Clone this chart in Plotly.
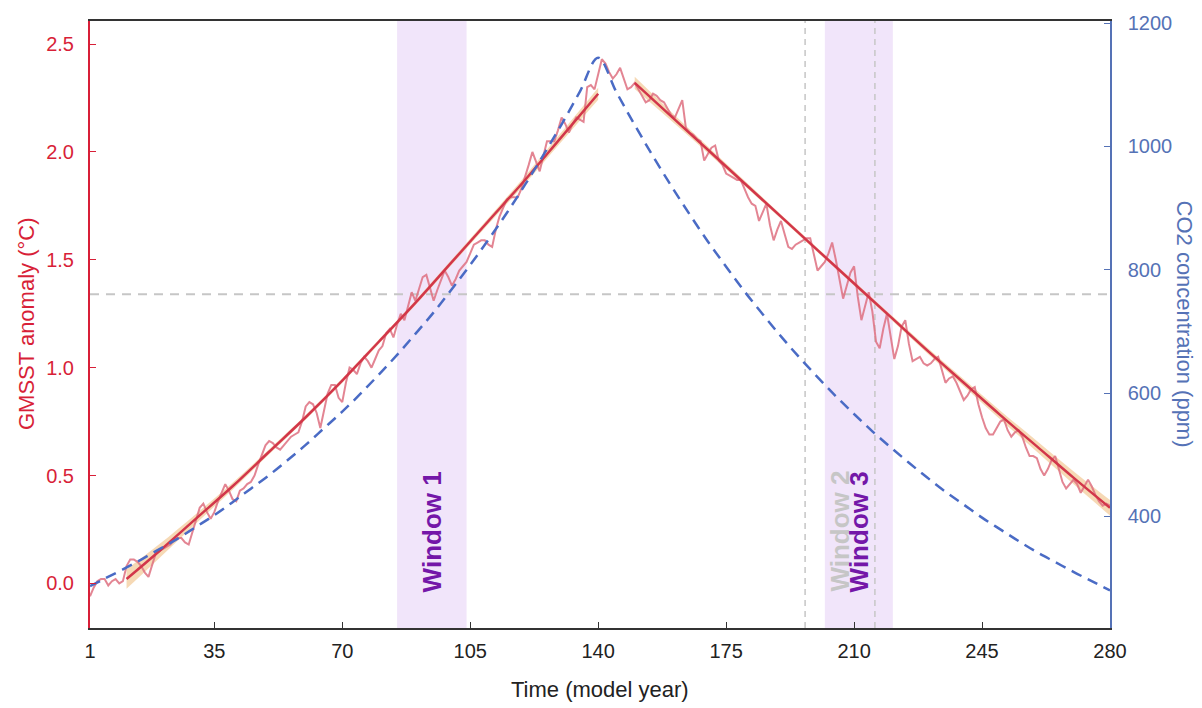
import plotly.graph_objects as go

# ---- data -----------------------------------------------------------------
years = list(range(1, 281))

# annual global-mean sea-surface temperature anomaly (°C)
gmsst = [
    -0.06, -0.02, 0.01, 0.02, 0.02, -0.01, 0.01, 0.02, 0.00, 0.01,
    0.08, 0.11, 0.11, 0.10, 0.08, 0.05, 0.03, 0.08, 0.14, 0.15,
    0.16, 0.17, 0.18, 0.20, 0.21, 0.21, 0.19, 0.18, 0.24, 0.30,
    0.35, 0.37, 0.33, 0.30, 0.33, 0.38, 0.42, 0.46, 0.43, 0.39,
    0.38, 0.43, 0.44, 0.46, 0.47, 0.50, 0.55, 0.60, 0.64, 0.66,
    0.65, 0.63, 0.62, 0.64, 0.66, 0.68, 0.69, 0.70, 0.75, 0.82,
    0.84, 0.83, 0.79, 0.72, 0.80, 0.88, 0.92, 0.92, 0.86, 0.84,
    0.93, 1.00, 0.99, 0.97, 1.02, 1.05, 1.03, 1.00, 1.04, 1.08,
    1.10, 1.16, 1.18, 1.14, 1.20, 1.25, 1.22, 1.29, 1.35, 1.31,
    1.37, 1.42, 1.43, 1.37, 1.31, 1.36, 1.41, 1.45, 1.42, 1.38,
    1.41, 1.45, 1.47, 1.49, 1.53, 1.57, 1.58, 1.59, 1.59, 1.57,
    1.56, 1.64, 1.70, 1.74, 1.78, 1.79, 1.79, 1.79, 1.83, 1.88,
    1.94, 2.00, 1.95, 1.91, 1.98, 2.05, 2.05, 2.05, 2.10, 2.16,
    2.13, 2.09, 2.13, 2.16, 2.15, 2.14, 2.30, 2.31, 2.29, 2.36,
    2.43, 2.41, 2.37, 2.34, 2.36, 2.39, 2.34, 2.29, 2.30, 2.32,
    2.29, 2.26, 2.23, 2.24, 2.27, 2.26, 2.24, 2.23, 2.20, 2.17,
    2.16, 2.20, 2.24, 2.11, 2.09, 2.08, 2.06, 2.05, 1.96, 1.99,
    2.02, 2.03, 1.96, 1.94, 1.90, 1.89, 1.88, 1.87, 1.87, 1.83,
    1.79, 1.76, 1.75, 1.68, 1.72, 1.76, 1.66, 1.59, 1.64, 1.68,
    1.62, 1.56, 1.55, 1.57, 1.58, 1.59, 1.60, 1.60, 1.52, 1.45,
    1.47, 1.49, 1.53, 1.58, 1.50, 1.40, 1.32, 1.38, 1.44, 1.47,
    1.33, 1.22, 1.28, 1.35, 1.26, 1.12, 1.09, 1.18, 1.25, 1.14,
    1.04, 1.10, 1.19, 1.22, 1.11, 1.03, 1.04, 1.05, 1.02, 1.01,
    1.02, 1.04, 1.05, 0.99, 0.93, 0.95, 0.96, 0.93, 0.89, 0.85,
    0.87, 0.90, 0.91, 0.83, 0.77, 0.72, 0.69, 0.69, 0.72, 0.75,
    0.76, 0.71, 0.68, 0.70, 0.71, 0.68, 0.63, 0.59, 0.59, 0.58,
    0.53, 0.50, 0.53, 0.57, 0.59, 0.53, 0.47, 0.44, 0.46, 0.48,
    0.46, 0.42, 0.45, 0.48, 0.45, 0.41, 0.38, 0.36, 0.37, 0.36,
]

# atmospheric CO2 concentration (ppm), every 5 model years
co2_years = [1, 5, 10, 15, 20, 25, 30, 35, 40, 45, 50, 55, 60, 65, 70, 75,
             80, 85, 90, 95, 100, 105, 110, 115, 120, 125, 130, 135, 140,
             145, 150, 155, 160, 165, 170, 175, 180, 185, 190, 195, 200,
             205, 210, 215, 220, 225, 230, 235, 240, 245, 250, 255, 260,
             265, 270, 275, 280]
co2_ppm = [287, 299, 314, 330, 347, 364, 383, 402, 423, 445, 467, 491, 516,
           543, 570, 599, 630, 662, 696, 731, 769, 808, 849, 892, 938, 986,
           1036, 1089, 1144,
           1088, 1035, 984, 936, 890, 846, 805, 765, 728, 692, 658, 626,
           595, 566, 538, 512, 487, 463, 440, 419, 398, 379, 360, 342,
           326, 310, 295, 280]

# fitted trend during ramp-up, with its uncertainty half-width
fit_up_years = [11, 20, 30, 40, 50, 60, 70, 80, 90, 100, 110, 120, 130, 140]
fit_up = [0.02, 0.15, 0.30, 0.45, 0.61, 0.77, 0.94, 1.12, 1.30, 1.49,
          1.68, 1.87, 2.07, 2.27]
fit_up_err = [0.045, 0.032, 0.022, 0.016, 0.012, 0.010, 0.010, 0.010,
              0.011, 0.012, 0.014, 0.018, 0.022, 0.028]

# fitted trend during ramp-down, with its uncertainty half-width
fit_down_years = [150, 160, 170, 180, 190, 200, 210, 220, 230, 240, 250,
                  260, 270, 280]
fit_down = [2.32, 2.165, 2.01, 1.855, 1.70, 1.545, 1.39, 1.235, 1.08, 0.93,
            0.78, 0.635, 0.49, 0.35]
fit_down_err = [0.028, 0.020, 0.015, 0.012, 0.010, 0.010, 0.010, 0.011,
                0.013, 0.016, 0.020, 0.025, 0.030, 0.036]

# analysis windows (model years)
window1 = (85, 104)
window2 = (196.6, 215.7)
window3 = (202, 220.6)
threshold = 1.34

x_ticks = [1, 35, 70, 105, 140, 175, 210, 245, 280]
y_ticks = [0.0, 0.5, 1.0, 1.5, 2.0, 2.5]
y2_ticks = [400, 600, 800, 1000, 1200]

# ---- styling --------------------------------------------------------------
RED = "#d81f38"
BLUE = "#5572b6"
CO2_BLUE = "#4a6bc5"
NOISY = "rgba(222,112,128,0.85)"
FIT = "#d2364a"
BAND = "rgba(245,210,168,0.85)"
SHADE = "#f1e5fa"
PURPLE = "#7417a8"
GREY = "#c6c6c6"
FONT = "Liberation Sans, Arial, sans-serif"
TICK_SIZE = 20
TITLE_SIZE = 22

fig = go.Figure()


def band(xs, ys, err):
    upper = [y + e for y, e in zip(ys, err)]
    lower = [y - e for y, e in zip(ys, err)]
    fig.add_trace(go.Scatter(x=xs, y=lower, mode="lines",
                             line=dict(width=0, shape="spline"),
                             hoverinfo="skip", showlegend=False))
    fig.add_trace(go.Scatter(x=xs, y=upper, mode="lines", fill="tonexty",
                             fillcolor=BAND,
                             line=dict(width=0, shape="spline"),
                             hoverinfo="skip", showlegend=False))


band(fit_up_years, fit_up, fit_up_err)
band(fit_down_years, fit_down, fit_down_err)

fig.add_trace(go.Scatter(x=years, y=gmsst, mode="lines",
                         line=dict(color=NOISY, width=2),
                         name="GMSST", showlegend=False))

fig.add_trace(go.Scatter(x=fit_up_years, y=fit_up, mode="lines",
                         line=dict(color=FIT, width=2.5, shape="spline"),
                         showlegend=False))
fig.add_trace(go.Scatter(x=fit_down_years, y=fit_down, mode="lines",
                         line=dict(color=FIT, width=2.5, shape="spline"),
                         showlegend=False))

fig.add_trace(go.Scatter(x=co2_years, y=co2_ppm, mode="lines", yaxis="y2",
                         line=dict(color=CO2_BLUE, width=2.5,
                                   dash="11px,7px", shape="spline"),
                         name="CO2", showlegend=False))

# shaded windows and reference lines
shapes = []
for w in (window1, window3):
    shapes.append(dict(type="rect", xref="x", yref="paper", x0=w[0], x1=w[1],
                       y0=0, y1=1, fillcolor=SHADE, line=dict(width=0),
                       layer="below"))
for xv in window2:
    shapes.append(dict(type="line", xref="x", yref="paper", x0=xv, x1=xv,
                       y0=0, y1=1, line=dict(color=GREY, width=1.5,
                                             dash="6px,5px"),
                       layer="below"))
shapes.append(dict(type="line", xref="x", yref="y", x0=1, x1=280,
                   y0=threshold, y1=threshold,
                   line=dict(color=GREY, width=2, dash="9px,7px"),
                   layer="below"))

annotations = [
    dict(text="<b>Window 1</b>", x=sum(window1) / 2, y=0.24, xref="x",
         yref="y", textangle=-90, showarrow=False,
         xanchor="center", yanchor="middle",
         font=dict(family=FONT, size=26, color=PURPLE)),
    dict(text="<b>Window 2</b>", x=sum(window2) / 2, y=0.24, xref="x",
         yref="y", textangle=-90, showarrow=False,
         xanchor="center", yanchor="middle",
         font=dict(family=FONT, size=26, color=GREY)),
    dict(text="<b>Window 3</b>", x=sum(window3) / 2, y=0.24, xref="x",
         yref="y", textangle=-90, showarrow=False,
         xanchor="center", yanchor="middle",
         font=dict(family=FONT, size=26, color=PURPLE)),
    dict(text="GMSST anomaly (°C)", x=-0.062, y=0.502, xref="paper",
         yref="paper", textangle=-90, showarrow=False,
         xanchor="center", yanchor="middle",
         font=dict(family=FONT, size=TITLE_SIZE, color=RED)),
    dict(text="CO2 concentration (ppm)", x=1.0735, y=0.5, xref="paper",
         yref="paper", textangle=90, showarrow=False,
         xanchor="center", yanchor="middle",
         font=dict(family=FONT, size=TITLE_SIZE, color=BLUE)),
    dict(text="Time (model year)", x=0.5, y=-0.101, xref="paper",
         yref="paper", showarrow=False,
         xanchor="center", yanchor="middle",
         font=dict(family=FONT, size=TITLE_SIZE, color="#222222")),
]

fig.update_layout(
    width=1202, height=708,
    margin=dict(l=90, r=92, t=14, b=80),
    paper_bgcolor="white", plot_bgcolor="white",
    font=dict(family=FONT, size=TICK_SIZE, color="#222222"),
    shapes=shapes, annotations=annotations,
    xaxis=dict(range=[1, 280], tickvals=x_ticks, ticks="inside",
               ticklen=6, tickcolor="#333333", showline=True,
               linecolor="#333333", linewidth=1.5, mirror=True,
               showgrid=False, zeroline=False, ticklabelstandoff=4,
               tickfont=dict(size=TICK_SIZE, color="#222222")),
    yaxis=dict(range=[-0.207, 2.607], tickvals=y_ticks,
               ticktext=[f"{v:.1f}" for v in y_ticks], ticks="inside",
               ticklen=6, tickcolor=RED, showline=True, linecolor=RED,
               linewidth=2, showgrid=False, zeroline=False,
               ticklabelstandoff=10,
               tickfont=dict(size=TICK_SIZE, color=RED)),
    yaxis2=dict(range=[219, 1203.5], tickvals=y2_ticks, overlaying="y",
                side="right", ticks="inside", ticklen=6, tickcolor=BLUE,
                showline=True, linecolor=BLUE, linewidth=1.5,
                showgrid=False, zeroline=False, ticklabelstandoff=12,
                tickfont=dict(size=TICK_SIZE, color=BLUE)),
)

fig.write_html("out.html")
